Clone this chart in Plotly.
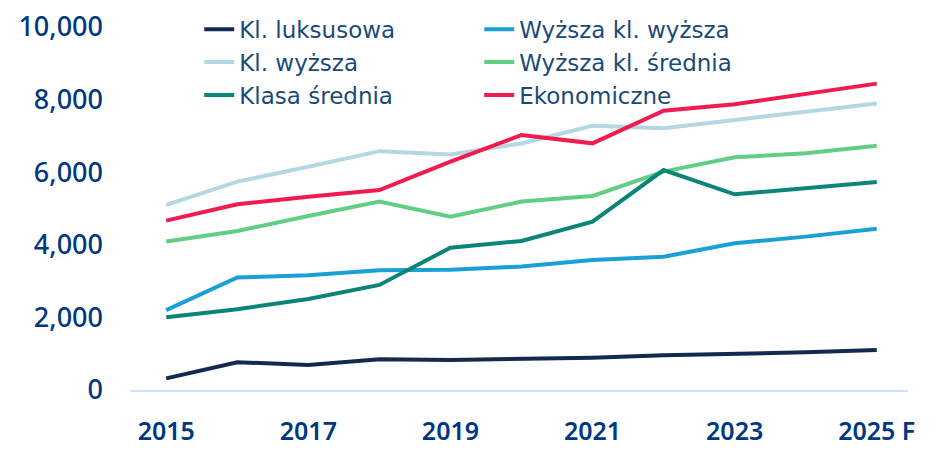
import plotly.graph_objects as go

years = [2015, 2016, 2017, 2018, 2019, 2020, 2021, 2022, 2023, 2024, 2025]
tick_years = [2015, 2017, 2019, 2021, 2023, 2025]
tick_labels = ["2015", "2017", "2019", "2021", "2023", "2025 F"]
y_ticks = [0, 2000, 4000, 6000, 8000, 10000]

names = ["Kl. luksusowa", "Wyższa kl. wyższa", "Kl. wyższa",
         "Wyższa kl. średnia", "Klasa średnia", "Ekonomiczne"]

luksusowa = [320, 765, 690, 845, 826, 854, 890, 955, 992, 1040, 1100]
wyzsza_wyzsza = [2200, 3100, 3160, 3300, 3310, 3400, 3580, 3670, 4040, 4225, 4445]
kl_wyzsza = [5100, 5740, 6150, 6580, 6490, 6790, 7280, 7210, 7440, 7670, 7890]
wyzsza_srednia = [4090, 4380, 4795, 5190, 4775, 5190, 5345, 6015, 6410, 6520, 6730]
klasa_srednia = [2005, 2225, 2505, 2895, 3920, 4105, 4640, 6060, 5390, 5555, 5730]
ekonomiczne = [4665, 5115, 5325, 5510, 6290, 7025, 6795, 7695, 7870, 8155, 8440]

series = [luksusowa, wyzsza_wyzsza, kl_wyzsza, wyzsza_srednia, klasa_srednia, ekonomiczne]
colors = ["#13294F", "#1A9FD6", "#B3D8E4", "#62CE84", "#0B8577", "#F01B4E"]

fig = go.Figure()
for name, vals, col in zip(names, series, colors):
    fig.add_trace(go.Scatter(x=years, y=vals, name=name, mode="lines",
                             line=dict(color=col, width=4)))

x_font = dict(family="Noto Sans, sans-serif", size=25, color="#003781", weight=600)
y_font = dict(family="Noto Sans, sans-serif", size=27, color="#003781", weight=500)

fig.update_layout(
    width=944, height=463,
    margin=dict(l=130, r=36, t=27, b=73, autoexpand=False),
    paper_bgcolor="white", plot_bgcolor="white",
    showlegend=True,
    legend=dict(orientation="h", x=0.089, xanchor="left", y=1.053, yanchor="top",
                entrywidth=235, entrywidthmode="pixels",
                bgcolor="rgba(255,255,255,0)", borderwidth=0,
                font=dict(family="DejaVu Sans, sans-serif", size=23, color="#1B4A78"),
                traceorder="normal"),
    xaxis=dict(range=[2014.49, 2025.44], tickvals=tick_years, ticktext=tick_labels,
               showgrid=False, zeroline=False, showline=True,
               linecolor="#CFE1F8", linewidth=2, ticks="",
               ticklabelstandoff=18, tickfont=x_font),
    yaxis=dict(range=[0, 10000], tickvals=y_ticks, tickformat=",",
               showgrid=False, zeroline=False, showline=False, ticks="",
               ticklabelstandoff=26, tickfont=y_font),
)

fig.write_html("out.html")
